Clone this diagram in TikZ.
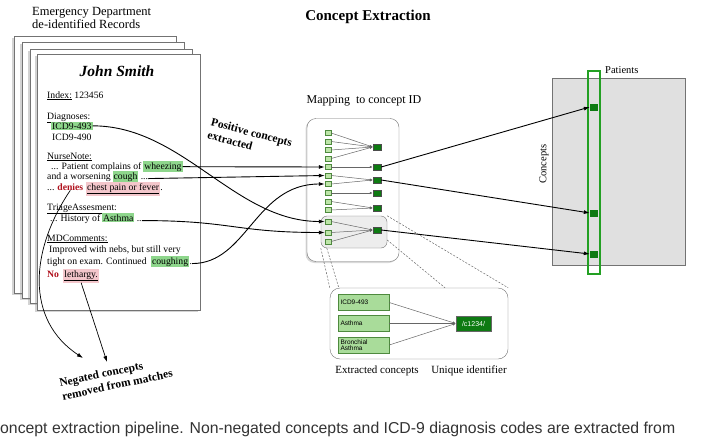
\documentclass[tikz,border=0pt]{standalone}
\usepackage{fontspec}
\setmainfont{Liberation Serif}
\newfontfamily\capfont{Liberation Sans}
\usetikzlibrary{positioning,arrows.meta,shadows}

\definecolor{hlgreen}{HTML}{8ED68C}
\definecolor{hlpink}{HTML}{F3C6CB}
\definecolor{negred}{HTML}{B0101C}
\definecolor{sqlight}{HTML}{BDE5A8}
\definecolor{sqedge}{HTML}{4E8A3E}
\definecolor{sqdark}{HTML}{0E7A12}
\definecolor{colgreen}{HTML}{23A023}
\definecolor{matgrey}{HTML}{E0E0E0}
\definecolor{boxgreen}{HTML}{A9DC9A}
\definecolor{captext}{HTML}{333333}

\tikzset{
  doc/.style={font=\fontsize{9.7}{11}\selectfont, inner sep=0pt, anchor=base west},
  hlg/.style={doc, fill=hlgreen, inner xsep=1pt, inner ysep=1pt},
  hlr/.style={doc, fill=hlpink, inner xsep=1pt, inner ysep=1.5pt},
  negword/.style={doc, font=\fontsize{9.7}{11}\selectfont\bfseries, text=negred},
  page/.style={draw=black!55, fill=white, line width=0.6pt,
    drop shadow={shadow xshift=-2pt, shadow yshift=-2pt, opacity=0.35}},
  lsq/.style={draw=sqedge, fill=sqlight, minimum width=6pt, minimum height=5pt, inner sep=0pt},
  dsq/.style={draw=black!70, fill=sqdark, minimum width=8pt, minimum height=6pt, inner sep=0pt},
  psq/.style={fill=sqdark, minimum width=8pt, minimum height=7pt, inner sep=0pt},
  cbox/.style={draw=sqedge, fill=boxgreen, minimum width=51pt, minimum height=16pt,
    text width=46pt, align=left, inner sep=2pt, font=\capfont\fontsize{6.5}{6.5}\selectfont},
  mapedge/.style={draw=black!60, line width=0.5pt, -{Latex[length=3pt,width=2.5pt]}},
  posarrow/.style={line width=0.9pt, -{Latex[length=6pt,width=4pt]}},
  negarrow/.style={line width=0.7pt, -{Latex[length=6pt,width=4pt]}},
  zoomline/.style={black!60, line width=0.5pt, dash pattern=on 2pt off 1.5pt}
}

\begin{document}
\begin{tikzpicture}[x=1pt,y=-1pt]
    \useasboundingbox (0,0) rectangle (706,444);

    % Titles
    \node[font=\fontsize{15}{17}\selectfont\bfseries] (title) at (368,17) {Concept Extraction};
    \node[font=\fontsize{12.5}{13.5}\selectfont, align=left, anchor=north west, inner sep=0pt] (src) at (32,7) {Emergency Department\\de-identified Records};

    % Stack of records
    \draw[page] (14,36) rectangle (176,293);
    \draw[page] (22,42) rectangle (184,298);
    \draw[page] (30,49) rectangle (192,303);
    \draw[page] (37,54) rectangle (200,310);

    % Front record
    \node[font=\fontsize{15.5}{17}\selectfont\bfseries\itshape] (pname) at (117,71) {John Smith};
    \node[doc] (idx) at (47,98) {\underline{Index:} 123456};
    \node[doc] (diag) at (47,119) {\underline{Diagnoses:}};
    \node[hlg] (icdA) at (51,129) {ICD9-493};
    \node[doc] (icdB) at (52,140) {ICD9-490};

    \node[doc] (nurse) at (47,159) {\underline{NurseNote:}};
    \node[doc] (nnA) at (51,169) {... Patient complains of};
    \node[hlg, right=1.5pt of nnA.base east, anchor=base west] (wheeze) {wheezing};
    \node[doc] (nnB) at (47,179) {and a worsening};
    \node[hlg, right=1.5pt of nnB.base east, anchor=base west] (cough) {cough};
    \node[doc, right=2pt of cough.base east, anchor=base west] (nnB2) {...};
    \node[doc] (nnC) at (47,190) {...};
    \node[negword, right=2.5pt of nnC.base east, anchor=base west] (denies) {denies};
    \node[hlr, right=2.5pt of denies.base east, anchor=base west] (chest) {\underline{chest pain or fever}};
    \node[doc, right=0pt of chest.base east, anchor=base west] (nnC2) {.};

    \node[doc] (triage) at (47,210) {\underline{TriageAssesment:}};
    \node[doc] (taA) at (50,221) {... History of};
    \node[hlg, right=1.5pt of taA.base east, anchor=base west] (asthma) {Asthma};
    \node[doc, right=2pt of asthma.base east, anchor=base west] (taB) {..};

    \node[doc] (mdc) at (47,241) {\underline{MDComments:}};
    \node[doc] (mdA) at (49,252) {Improved with nebs, but still very};
    \node[doc] (mdB) at (47,264) {tight on exam. Continued};
    \node[hlg, right=4pt of mdB.base east, anchor=base west] (coughing) {coughing};
    \node[doc, right=0pt of coughing.base east, anchor=base west] (mdB2) {.};
    \node[negword] (no) at (47,277) {No};
    \node[hlr, right=4pt of no.base east, anchor=base west] (lethargy) {\underline{lethargy.}};

    % Side labels
    \node[font=\fontsize{11.5}{13.5}\selectfont\bfseries, align=left, rotate=-15, inner sep=1pt] (poslbl) at (250,139) {Positive concepts\\extracted};
    \node[font=\fontsize{11.5}{13.5}\selectfont\bfseries, align=left, rotate=12, inner sep=1pt] (neglbl) at (116,378) {Negated concepts\\removed from matches};

    % Mapping to concept ID
    \node[draw=black!55, fill=white, rounded corners=9pt, minimum width=92pt, minimum height=143pt,
      drop shadow={shadow xshift=-1.5pt, shadow yshift=-1.5pt, opacity=0.3}] (mapbox) at (353,190) {};
    \node[font=\fontsize{12}{14}\selectfont] (maplbl) at (364,101) {Mapping\ \ to concept ID};
    \node[draw=black!55, fill=black!7, rounded corners=6pt, minimum width=66pt, minimum height=32pt] (inner) at (354,232) {};

    \foreach \i/\y in {1/133,2/141.5,3/150,4/158.5,5/167,6/175.5,7/184,8/193,9/201.5,10/210,11/221.5,12/232.5,13/241.5}
        \node[lsq] (s\i) at (328,\y) {};
    \foreach \i/\y in {1/147,2/167,3/180,4/193,5/208,6/230}
        \node[dsq] (d\i) at (377,\y) {};
    \foreach \a/\b in {1/1,2/1,3/1,4/1,5/2,6/3,7/3,8/4,9/5,10/5,11/6,12/6,13/6}
        \draw[mapedge] (s\a.east) -- (d\b.west);

    % Patients x concepts
    \node[draw=black!55, fill=matgrey, minimum width=133pt, minimum height=187pt, inner sep=0pt] (pmat) at (618.5,171.5) {};
    \node[draw=colgreen, line width=1.2pt, minimum width=12pt, minimum height=203pt, inner sep=0pt] (pcol) at (594,172.5) {};
    \node[font=\fontsize{10.5}{12}\selectfont, anchor=base west, inner sep=0pt] (plbl) at (605,74) {Patients};
    \node[font=\fontsize{10.5}{12}\selectfont, rotate=90] (clbl) at (544,164) {Concepts};
    \node[psq] (p1) at (594,107) {};
    \node[psq] (p2) at (594,213) {};
    \node[psq] (p3) at (594,254) {};

    % Zoom on one identifier
    \node[draw=black!55, fill=white, rounded corners=10pt, minimum width=178pt, minimum height=71pt] (zoombox) at (419,323.5) {};
    \node[cbox] (c1) at (363.5,302.5) {ICD9-493};
    \node[cbox] (c2) at (363.5,323.5) {Asthma};
    \node[cbox] (c3) at (363.5,345) {Bronchial\\Asthma};
    \node[draw=black!60, fill=sqdark, text=white, minimum width=35pt, minimum height=15pt, inner sep=1pt,
      font=\capfont\fontsize{7}{7}\selectfont] (uid) at (473.5,323.5) {/c1234/};
    \foreach \c in {c1,c2,c3}
        \draw[mapedge] (\c.east) -- (uid.west);
    \node[font=\fontsize{11}{13}\selectfont] (exlbl) at (377,371) {Extracted concepts};
    \node[font=\fontsize{11}{13}\selectfont] (idlbl) at (469,371) {Unique identifier};

    \draw[zoomline] (inner.south west) -- (zoombox.north west);
    \draw[zoomline] ([xshift=6pt]inner.south west) -- ([xshift=9pt]zoombox.north west);
    \draw[zoomline] (inner.north east) -- (zoombox.north east);
    \draw[zoomline] ([yshift=-8pt]inner.east) -- ([xshift=26pt]zoombox.north);

    % Positive concepts into the mapping
    \draw[posarrow] (icdA.east) .. controls +(90,0) and +(-90,0) .. (s11.west);
    \draw[posarrow] (wheeze.east) -- (s5.west);
    \draw[posarrow] (nnB2.east) -- (s6.west);
    \draw[posarrow] (taB.east) .. controls +(90,0) and +(-90,0) .. (s12.west);
    \draw[posarrow] (mdB2.east) .. controls +(55,0) and +(-70,0) .. (s7.west);

    % Concept IDs to patients
    \draw[posarrow] (d2.east) -- (p1.west);
    \draw[posarrow] (d3.east) -- (p2.west);
    \draw[posarrow] (d6.east) -- (p3.west);

    % Negated concepts
    \coordinate (negA) at (83,358);
    \coordinate (negB) at (107,362);
    \draw[negarrow] (denies.south) .. controls (30,250) and (25,320) .. (negA);
    \draw[negarrow] (lethargy.south) -- (negB);

    % Caption
    \node[font=\capfont\fontsize{15.8}{17}\selectfont, text=captext, anchor=base west, inner sep=0pt] (caption) at (0,433) {oncept extraction pipeline. Non-negated concepts and ICD-9 diagnosis codes are extracted from};
\end{tikzpicture}
\end{document}
